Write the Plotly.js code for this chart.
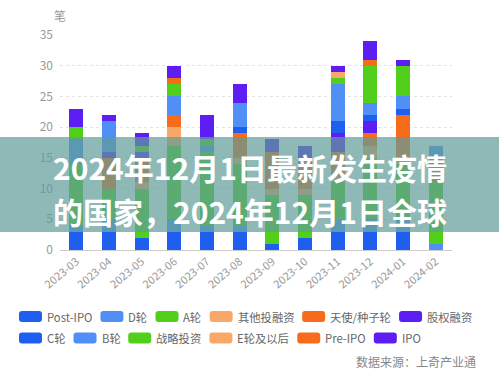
<!DOCTYPE html>
<html><head><meta charset="utf-8">
<script src="https://cdn.plot.ly/plotly-3.0.1.min.js"></script>
<style>html,body{margin:0;padding:0;background:#fff}#chart{width:499px;height:371px}</style>
</head><body><div id="chart"></div>
<script>
// ---- data ----
const months = ['2023-03','2023-04','2023-05','2023-06','2023-07','2023-08','2023-09','2023-10','2023-11','2023-12','2024-01','2024-02'];
const seriesNames = ['Post-IPO','D轮','A轮','其他投融资','天使/种子轮','股权融资','C轮','B轮','战略投资','E轮及以后','Pre-IPO','IPO'];
const seriesColors = ['#1e5ff0','#4f8ff6','#52cf1a','#f9a869','#f76c1b','#5c1ef2','#1e5ff0','#4f8ff6','#52cf1a','#f9a869','#f76c1b','#5c1ef2'];
const postIPO   = [3,3,2,3,3,3,1,2,3,3,3,0];
const dRound    = [1,2,0,2,1,1,0,0,2,2,2,1];
const aRound    = [10,5,8,12,12,10,8,7,6,10,9,10];
const otherInv  = [0,0,1,3,0,1,1,1,1,2,1,0];
const angelSeed = [0,5,4,2,0,4,6,5,4,2,7,4];
const equityFin = [0,1,1,0,0,0,1,1,3,2,0,0];
const cRound    = [0,0,0,0,0,1,0,0,2,1,1,0];
const bRound    = [4,5,0,3,1,4,0,0,6,2,2,2];
const strategic = [2,0,1,2,1,0,0,0,1,6,5,0];
const eRound    = [0,0,0,0,0,0,0,0,1,0,0,0];
const preIPO    = [0,0,0,1,0,0,0,0,0,1,0,0];
const ipo       = [3,1,2,2,4,3,1,1,1,3,1,0];
const seriesValues = [postIPO,dRound,aRound,otherInv,angelSeed,equityFin,cRound,bRound,strategic,eRound,preIPO,ipo];
const yTicks = [0,5,10,15,20,25,30,35];
const unitLabel = '笔';
const sourceText = '数据来源：上奇产业通';
const bannerLines = ['2024年12月1日最新发生疫情','的国家，2024年12月1日全球'];

// ---- geometry helpers (layout only) ----
const W = 499, H = 371, L = 60, R = 47, T = 35, B = 121;
const PW = W - L - R, PH = H - T - B;
const px2x = px => (px - L) / PW;
const py2y = py => (H - B - py) / PH;
const FONT = '"Noto Sans CJK SC", "Noto Sans", sans-serif';

const traces = seriesNames.map((n, i) => ({
  type: 'bar', name: n, x: months, y: seriesValues[i],
  marker: {color: seriesColors[i], line: {width: 0}},
  showlegend: false, hoverinfo: 'x+y+name'
}));

const shapes = [];
const annotations = [];

// banner overlay
shapes.push({type:'rect', xref:'paper', yref:'paper', layer:'above',
  x0: px2x(-2), x1: px2x(W + 2), y0: py2y(232), y1: py2y(137),
  fillcolor:'rgba(95,155,152,0.70)', line:{width:0}});
const bannerY = [167, 211];
bannerLines.forEach((t, k) => {
  annotations.push({xref:'paper', yref:'paper', x: px2x(249.5), y: py2y(bannerY[k]), xanchor:'center', yanchor:'middle',
    text: t, showarrow:false, borderpad:0,
    font:{family:FONT, size:30, color:'#ffffff', weight:700}});
});

// unit label & source
annotations.push({xref:'paper', yref:'paper', x: px2x(60), y: py2y(15), xanchor:'center', yanchor:'middle',
  text: unitLabel, showarrow:false, font:{family:FONT, size:12, color:'#999'}});
annotations.push({xref:'paper', yref:'paper', x: px2x(478), y: py2y(361), xanchor:'right', yanchor:'middle',
  text: sourceText, showarrow:false, font:{family:FONT, size:12, color:'#888'}});

// legend (two rows, packed)
const ctx = document.createElement('canvas').getContext('2d');
const LFS = 11.3;
ctx.font = LFS + 'px ' + FONT;
const rows = [[0,1,2,3,4,5],[6,7,8,9,10,11]];
const rowY = [316.5, 338];
const swPath = 'M-8.5,-5.5 H8.5 Q11.5,-5.5 11.5,-2.5 V2.5 Q11.5,5.5 8.5,5.5 H-8.5 Q-11.5,5.5 -11.5,2.5 V-2.5 Q-11.5,-5.5 -8.5,-5.5 Z';
rows.forEach((row, r) => {
  let tx = 46;
  row.forEach(i => {
    const w = ctx.measureText(seriesNames[i]).width;
    shapes.push({type:'path', xref:'paper', yref:'paper', xsizemode:'pixel', ysizemode:'pixel',
      xanchor: px2x(tx - 15.5), yanchor: py2y(rowY[r]), path: swPath,
      fillcolor: seriesColors[i], line:{width:0}, layer:'above'});
    annotations.push({xref:'paper', yref:'paper', x: px2x(tx - 1), y: py2y(rowY[r]), xanchor:'left', yanchor:'middle',
      text: seriesNames[i], showarrow:false, font:{family:FONT, size:LFS, color:'#666'}});
    tx += w + 36;
  });
});

const layout = {
  width: W, height: H, margin: {l: L, r: R, t: T, b: B, pad: 0},
  barmode: 'stack', bargap: 0.57,
  paper_bgcolor: '#fff', plot_bgcolor: '#fff', showlegend: false,
  font: {family: FONT, size: 12, color: '#999'},
  xaxis: {type: 'category', tickangle: -40, tickfont: {family: FONT, size: 11, color: '#999'},
    showgrid: false, showline: true, linecolor: '#cccccc', linewidth: 1, ticks: '', zeroline: false, fixedrange: true},
  yaxis: {range: [0, 35], tickvals: yTicks, ticktext: yTicks.map(String), showgrid: true, gridcolor: '#e3e3e3',
    griddash: '3px,3px', gridwidth: 1, zeroline: false, showline: false, ticks: '', ticklabelstandoff: 6,
    tickfont: {family: FONT, size: 12, color: '#999'}, fixedrange: true},
  shapes: shapes, annotations: annotations
};

Plotly.newPlot('chart', traces, layout, {staticPlot: true, displayModeBar: false});
</script>
</body></html>
